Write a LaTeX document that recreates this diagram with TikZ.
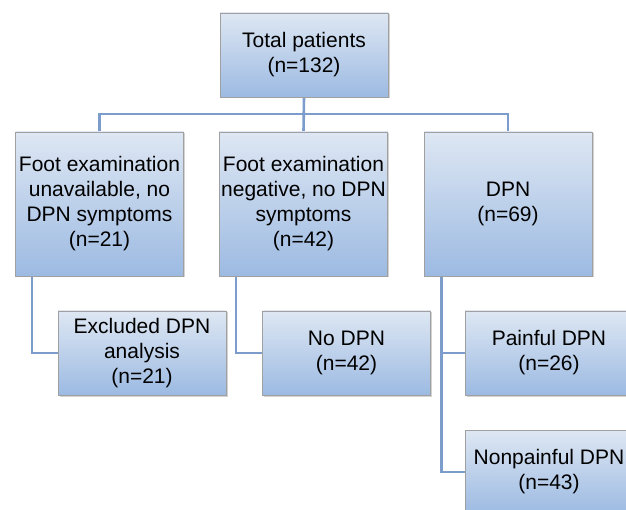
\documentclass[tikz,border=0pt]{standalone}
\usepackage{fontspec}
\setmainfont{Liberation Sans}
\usepackage{xcolor}
\usepackage{tikz}
\usetikzlibrary{positioning, shadows, backgrounds}
\definecolor{boxtop}{RGB}{222, 231, 243}
\definecolor{boxbot}{RGB}{156, 186, 226}
\definecolor{boxline}{RGB}{160, 160, 160}
\definecolor{linkblue}{RGB}{124, 156, 204}

\begin{document}
\begin{tikzpicture}[
  x=1pt, y=1pt,
  flowbox/.style={
    rectangle, draw=boxline, line width=0.8pt,
    top color=boxtop, bottom color=boxbot,
    drop shadow={shadow xshift=1.5pt, shadow yshift=-1.5pt, opacity=0.35},
    minimum width=168pt, minimum height=84pt, inner sep=2pt,
    font=\fontsize{21}{25}\selectfont, align=center
  },
  tallbox/.style={flowbox, minimum height=144pt},
  link/.style={draw=linkblue, line width=2.6pt},
]
\useasboundingbox (0,0) rectangle (626,-510);

\def\colA{99.5}
\def\colB{303.5}
\def\colC{508}
\def\rowA{-55}
\def\rowB{-204}
\def\rowC{-353}
\def\rowD{-472}

% boxes
\node[flowbox] (total) at (304,\rowA) {Total patients\\(n=132)};

\node[tallbox] (nofoot) at (\colA,\rowB) {Foot examination\\unavailable, no\\DPN symptoms\\(n=21)};
\node[tallbox] (negfoot) at (\colB,\rowB) {Foot examination\\negative, no DPN\\symptoms\\(n=42)};
\node[tallbox] (dpn) at (\colC,\rowB) {DPN\\(n=69)};

\node[flowbox] (excl) at (142,\rowC) {Excluded DPN\\analysis\\(n=21)};
\node[flowbox] (nodpn) at (346.5,\rowC) {No DPN\\(n=42)};
\node[flowbox] (pain) at (549,\rowC) {Painful DPN\\(n=26)};
\node[flowbox] (nonpain) at (549,\rowD) {Nonpainful DPN\\(n=43)};

% connectors
\begin{scope}[on background layer]
\coordinate (bus) at (304,-114);
\draw[link] (total.south) -- (negfoot.north);
\draw[link] (nofoot.north) |- (bus) -| (dpn.north);
\draw[link] ([xshift=17pt]nofoot.south west) |- (excl.west);
\draw[link] ([xshift=17pt]negfoot.south west) |- (nodpn.west);
\draw[link] ([xshift=18pt]dpn.south west) |- (pain.west);
\draw[link] ([xshift=18pt]dpn.south west) |- (nonpain.west);
\end{scope}

\end{tikzpicture}
\end{document}
